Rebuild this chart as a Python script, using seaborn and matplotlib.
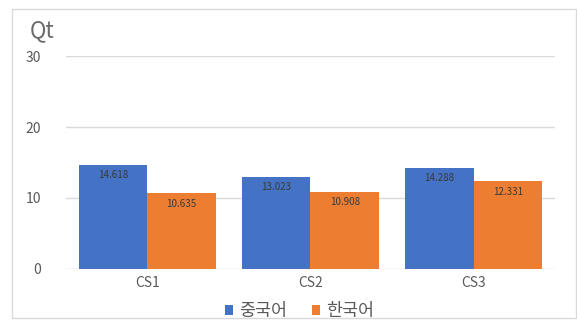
import matplotlib
matplotlib.use("Agg")
import matplotlib.pyplot as plt
from matplotlib.patches import Rectangle
import seaborn as sns
import pandas as pd

categories = ["CS1", "CS2", "CS3"]
series_names = ["중국어", "한국어"]
chinese_vals = [14.618, 13.023, 14.288]
korean_vals = [10.635, 10.908, 12.331]
y_ticks = [0, 10, 20, 30]
colors = ["#4472C4", "#ED7D31"]

df = pd.DataFrame({
    "case": categories * 2,
    "lang": [series_names[0]] * 3 + [series_names[1]] * 3,
    "value": chinese_vals + korean_vals,
})

sns.set_theme(style="white")
plt.rcParams["font.family"] = ["Noto Sans CJK KR", "DejaVu Sans"]

fig = plt.figure(figsize=(5.77, 3.24), dpi=100)
ax = fig.add_axes([0.114, 0.170, 0.848, 0.657])

sns.barplot(data=df, x="case", y="value", hue="lang", hue_order=series_names,
            palette=colors, width=0.84, saturation=1, ax=ax, legend=True,
            errorbar=None, linewidth=0, edgecolor="none")

for container in ax.containers:
    ax.bar_label(container, labels=[f"{b.get_height():.3f}" for b in container],
                 padding=-11, fontsize=7, color="#3a3a3a")

ax.set_ylim(0, 30)
ax.set_xlim(-0.5, 2.5)
ax.set_yticks(y_ticks)
ax.yaxis.grid(True, color="#D9D9D9", linewidth=1)
ax.set_axisbelow(True)
for s in ax.spines.values():
    s.set_visible(False)
ax.set_xlabel("")
ax.set_ylabel("")
ax.tick_params(axis="both", length=0, labelsize=10, colors="#595959")
ax.tick_params(axis="y", pad=18)
ax.tick_params(axis="x", pad=5)

leg = ax.legend(loc="center", bbox_to_anchor=(0.478, -0.2), ncol=2,
                frameon=False, fontsize=12.5, handlelength=0.5, handleheight=0.5,
                columnspacing=1.4, handletextpad=0.35, borderpad=0, borderaxespad=0)
for t in leg.get_texts():
    t.set_color("#595959")

fig.text(0.052, 0.905, "Qt", fontsize=16, color="#6a6a6a", va="center", ha="left",
         fontweight="light")

fig.patches.append(Rectangle((12 / 577, 6 / 324), 564 / 577, 309 / 324,
                             transform=fig.transFigure, fill=False,
                             edgecolor="#D9D9D9", linewidth=1))

fig.savefig("out.png", dpi=100)
